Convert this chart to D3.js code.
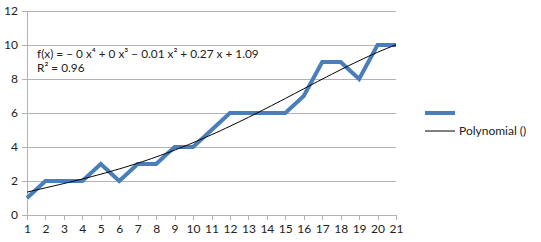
<!DOCTYPE html>
<html>
<head>
<meta charset="utf-8">
<script src="https://cdn.jsdelivr.net/npm/d3@7"></script>
<style>
body { margin: 0; background: #fff; }
text { font-family: Lato, "DejaVu Sans", sans-serif; fill: #222; }
</style>
</head>
<body>
<div id="chart"></div>
<script>
// values
var xValues = [1, 2, 3, 4, 5, 6, 7, 8, 9, 10, 11, 12, 13, 14, 15, 16, 17, 18, 19, 20, 21];
var yValues = [1, 2, 2, 2, 3, 2, 3, 3, 4, 4, 5, 6, 6, 6, 6, 7, 9, 9, 8, 10, 10];
var yTicks = [0, 2, 4, 6, 8, 10, 12];
var equationText = "f(x) = \u2212 0 x\u2074 + 0 x\u00b3 \u2212 0.01 x\u00b2 + 0.27 x + 1.09";
var r2Text = "R\u00b2 = 0.96";
var legendLabels = ["", "Polynomial ()"];

var width = 541, height = 242,
	padding = { top: 11, right: 145, bottom: 27, left: 27 },
	plotW = width - padding.left - padding.right,
	plotH = height - padding.top - padding.bottom;

var svg = d3.select("#chart").append("svg")
	.attr("width", width)
	.attr("height", height);

var xScale = d3.scaleLinear().domain([1, 21]).range([0, plotW]),
	yScale = d3.scaleLinear().domain([0, 12]).range([plotH, 0]);

var g = svg.append("g")
	.attr("transform", "translate(" + padding.left + "," + padding.top + ")");

// horizontal grid
g.append("g").selectAll("line")
	.data(yTicks.slice(1))
	.enter().append("line")
	.attr("x1", 0).attr("x2", plotW)
	.attr("y1", function(d) { return yScale(d); })
	.attr("y2", function(d) { return yScale(d); })
	.attr("stroke", "#b3b3b3").attr("stroke-width", 1)
	.attr("shape-rendering", "crispEdges");

// axes
var yAxis = d3.axisLeft(yScale).tickValues(yTicks).tickSize(5).tickSizeOuter(0);
var xAxis = d3.axisBottom(xScale).tickValues(xValues).tickSize(5).tickSizeOuter(0);

var ya = g.append("g").attr("class", "axis").call(yAxis);
var xa = g.append("g").attr("class", "axis")
	.attr("transform", "translate(0," + plotH + ")")
	.call(xAxis);

[ya, xa].forEach(function(a) {
	a.select(".domain").attr("stroke", "#b3b3b3").attr("shape-rendering", "crispEdges");
	a.selectAll(".tick line").attr("stroke", "#b3b3b3").attr("shape-rendering", "crispEdges");
	a.selectAll("text").style("font-family", "Lato, sans-serif").style("font-size", "12px").attr("fill", "#222");
});
ya.selectAll("text").attr("x", -9);
xa.selectAll("text").attr("y", 9);

// polynomial (degree 4) least squares fit of the data, like the trendline
function polyFit(xs, ys, deg) {
	var n = deg + 1, A = [], i, j, k;
	for (i = 0; i < n; i++) {
		A.push([]);
		for (j = 0; j <= n; j++) A[i].push(0);
	}
	xs.forEach(function(x, p) {
		for (i = 0; i < n; i++) {
			for (j = 0; j < n; j++) A[i][j] += Math.pow(x, i + j);
			A[i][n] += ys[p] * Math.pow(x, i);
		}
	});
	for (i = 0; i < n; i++) {
		var max = i;
		for (k = i + 1; k < n; k++) if (Math.abs(A[k][i]) > Math.abs(A[max][i])) max = k;
		var tmp = A[i]; A[i] = A[max]; A[max] = tmp;
		for (k = i + 1; k < n; k++) {
			var f = A[k][i] / A[i][i];
			for (j = i; j <= n; j++) A[k][j] -= f * A[i][j];
		}
	}
	var c = [];
	for (i = n - 1; i >= 0; i--) {
		var s = A[i][n];
		for (j = i + 1; j < n; j++) s -= A[i][j] * c[j];
		c[i] = s / A[i][i];
	}
	return c;
}
var coef = polyFit(xValues, yValues, 4);
var trend = d3.range(1, 21.001, 0.25).map(function(x) {
	var y = 0;
	coef.forEach(function(c, i) { y += c * Math.pow(x, i); });
	return [x, y];
});

var line = d3.line()
	.x(function(d) { return xScale(d[0]); })
	.y(function(d) { return yScale(d[1]); });

// data series
g.append("path")
	.datum(xValues.map(function(x, i) { return [x, yValues[i]]; }))
	.attr("d", line)
	.attr("fill", "none")
	.attr("stroke", "#4a7ebb")
	.attr("stroke-width", 4)
	.attr("stroke-linejoin", "miter");

// trendline
g.append("path")
	.datum(trend)
	.attr("d", line)
	.attr("fill", "none")
	.attr("stroke", "#000")
	.attr("stroke-width", 1);

// equation
var eq = svg.append("g").style("font-size", "11.8px");
eq.append("text").attr("x", 37).attr("y", 58).text(equationText);
eq.append("text").attr("x", 37).attr("y", 72).text(r2Text);

// legend
var legend = svg.append("g").attr("transform", "translate(425,113)");
legend.append("line")
	.attr("x1", 0).attr("x2", 30).attr("y1", 0).attr("y2", 0)
	.attr("stroke", "#4a7ebb").attr("stroke-width", 4);
legend.append("line")
	.attr("x1", 0).attr("x2", 30).attr("y1", 18).attr("y2", 18)
	.attr("stroke", "#000").attr("stroke-width", 1);
legend.selectAll("text.label")
	.data(legendLabels)
	.enter().append("text")
	.attr("class", "label")
	.attr("x", 34)
	.attr("y", function(d, i) { return i * 18 + 4; })
	.style("font-size", "12px")
	.text(function(d) { return d; });
</script>
</body>
</html>
